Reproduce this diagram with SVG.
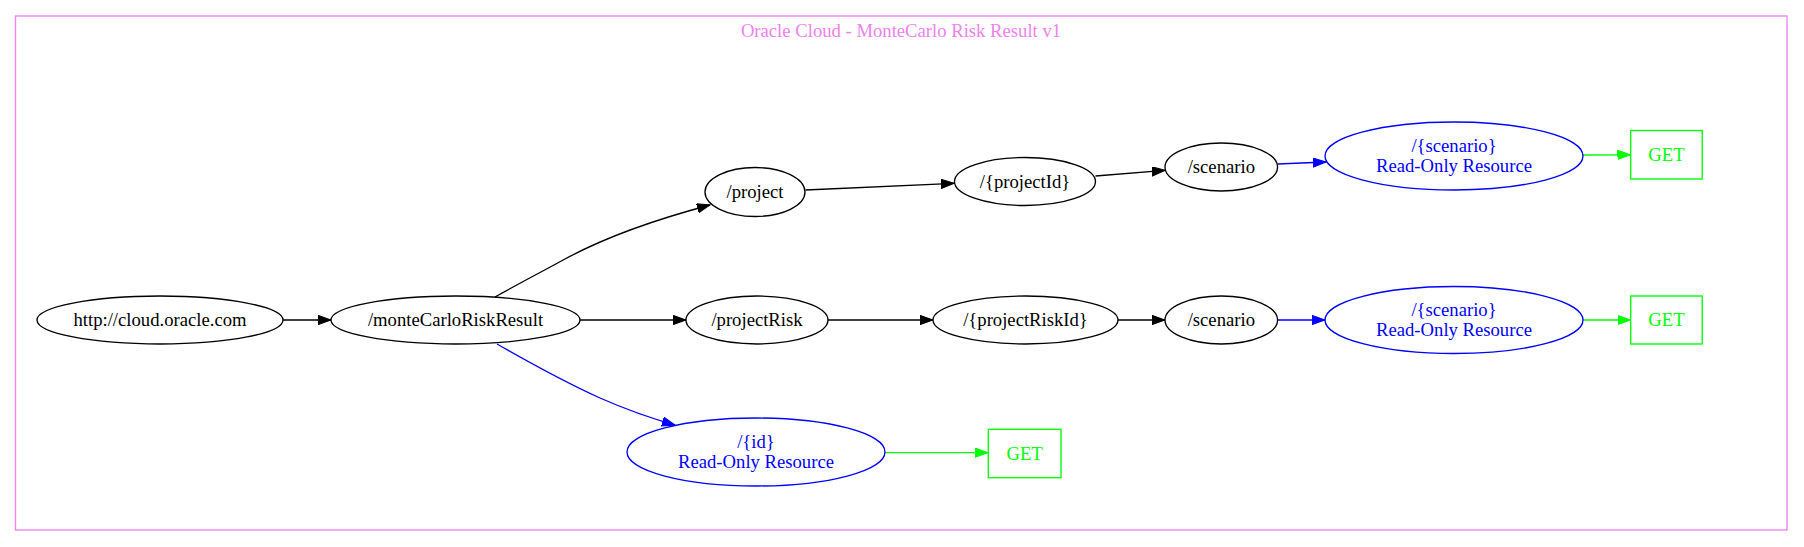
<svg xmlns="http://www.w3.org/2000/svg" width="1804" height="547" viewBox="0 0 1804 547">
<style>
text{font-family:"Liberation Serif","Times New Roman",serif;font-size:18.67px;text-anchor:middle}
.k{fill:none;stroke:#000;stroke-width:1.33}
.b{fill:none;stroke:#0000ff;stroke-width:1.33}
.g{fill:none;stroke:#00ff00;stroke-width:1.33}
.tk{fill:#000}.tb{fill:#0000ff}.tg{fill:#00ff00}
</style>
<defs>
<marker id="ak" markerUnits="userSpaceOnUse" markerWidth="14" markerHeight="10" refX="13" refY="4.67" orient="auto"><path d="M0,0L13,4.67L0,9.33z" fill="#000" stroke="#000" stroke-width="1"/></marker>
<marker id="ab" markerUnits="userSpaceOnUse" markerWidth="14" markerHeight="10" refX="13" refY="4.67" orient="auto"><path d="M0,0L13,4.67L0,9.33z" fill="#0000ff" stroke="#0000ff" stroke-width="1"/></marker>
<marker id="ag" markerUnits="userSpaceOnUse" markerWidth="14" markerHeight="10" refX="13" refY="4.67" orient="auto"><path d="M0,0L13,4.67L0,9.33z" fill="#00ff00" stroke="#00ff00" stroke-width="1"/></marker>
</defs>
<rect width="1804" height="547" fill="#fff"/>
<g id="cluster">
<rect x="15.5" y="16" width="1771.5" height="514" fill="none" stroke="#ee82ee" stroke-width="1.33"/>
<text x="901" y="37" fill="#ee82ee">Oracle Cloud - MonteCarlo Risk Result v1</text>
</g>
<g id="connectors">
<path class="k" marker-end="url(#ak)" d="M283,320L331,320"/>
<path class="k" marker-end="url(#ak)" d="M495,297C520,283 545,270 565,259C600,240 650,221 710,205"/>
<path class="k" marker-end="url(#ak)" d="M580,320L686,320"/>
<path class="b" marker-end="url(#ab)" d="M497,344C525,360 560,380 600,398C625,409 650,418 675,425"/>
<path class="g" marker-end="url(#ag)" d="M885,452.7L988,452.7"/>
<path class="k" marker-end="url(#ak)" d="M805.5,190L954,183.3"/>
<path class="k" marker-end="url(#ak)" d="M1095.5,176L1165,170.3"/>
<path class="b" marker-end="url(#ab)" d="M1277.5,164L1326,162"/>
<path class="g" marker-end="url(#ag)" d="M1583,155L1630.5,154.8"/>
<path class="k" marker-end="url(#ak)" d="M828,320L933,320"/>
<path class="k" marker-end="url(#ak)" d="M1118,320L1165,320"/>
<path class="b" marker-end="url(#ab)" d="M1277.5,320L1325,320"/>
<path class="g" marker-end="url(#ag)" d="M1583,320L1630.5,320"/>
</g>
<g id="n_root"><ellipse class="k" cx="160" cy="320" rx="123" ry="24"/><text class="tk" x="160" y="326">http://cloud.oracle.com</text></g>
<g id="n_monte"><ellipse class="k" cx="455.5" cy="320" rx="124.5" ry="24"/><text class="tk" x="455.5" y="326">/monteCarloRiskResult</text></g>
<g id="n_project"><ellipse class="k" cx="755" cy="192" rx="50" ry="24.5"/><text class="tk" x="755" y="198">/project</text></g>
<g id="n_projectId"><ellipse class="k" cx="1025" cy="181.5" rx="70.5" ry="24"/><text class="tk" x="1025" y="187.5">/{projectId}</text></g>
<g id="n_scenario1"><ellipse class="k" cx="1221.3" cy="167" rx="56.3" ry="24"/><text class="tk" x="1221.3" y="173">/scenario</text></g>
<g id="n_ro1"><ellipse class="b" cx="1454" cy="156" rx="129" ry="34"/><text class="tb" x="1454" y="152">/{scenario}</text><text class="tb" x="1454" y="172">Read-Only Resource</text></g>
<g id="n_get1"><rect class="g" x="1630.7" y="130.5" width="71.5" height="48.5"/><text class="tg" x="1666.5" y="161">GET</text></g>
<g id="n_projectRisk"><ellipse class="k" cx="757" cy="320" rx="71" ry="24"/><text class="tk" x="757" y="326">/projectRisk</text></g>
<g id="n_projectRiskId"><ellipse class="k" cx="1025.5" cy="320" rx="92.5" ry="24"/><text class="tk" x="1025.5" y="326">/{projectRiskId}</text></g>
<g id="n_scenario2"><ellipse class="k" cx="1221.3" cy="320" rx="56.3" ry="24"/><text class="tk" x="1221.3" y="326">/scenario</text></g>
<g id="n_ro2"><ellipse class="b" cx="1454" cy="320" rx="129" ry="33.5"/><text class="tb" x="1454" y="316">/{scenario}</text><text class="tb" x="1454" y="336">Read-Only Resource</text></g>
<g id="n_get2"><rect class="g" x="1630.7" y="296" width="71.5" height="48"/><text class="tg" x="1666.5" y="326">GET</text></g>
<g id="n_id"><ellipse class="b" cx="756" cy="452" rx="129" ry="34"/><text class="tb" x="756" y="448">/{id}</text><text class="tb" x="756" y="468">Read-Only Resource</text></g>
<g id="n_get3"><rect class="g" x="988.3" y="429.3" width="72.7" height="48.4"/><text class="tg" x="1024.6" y="459.5">GET</text></g>
</svg>
